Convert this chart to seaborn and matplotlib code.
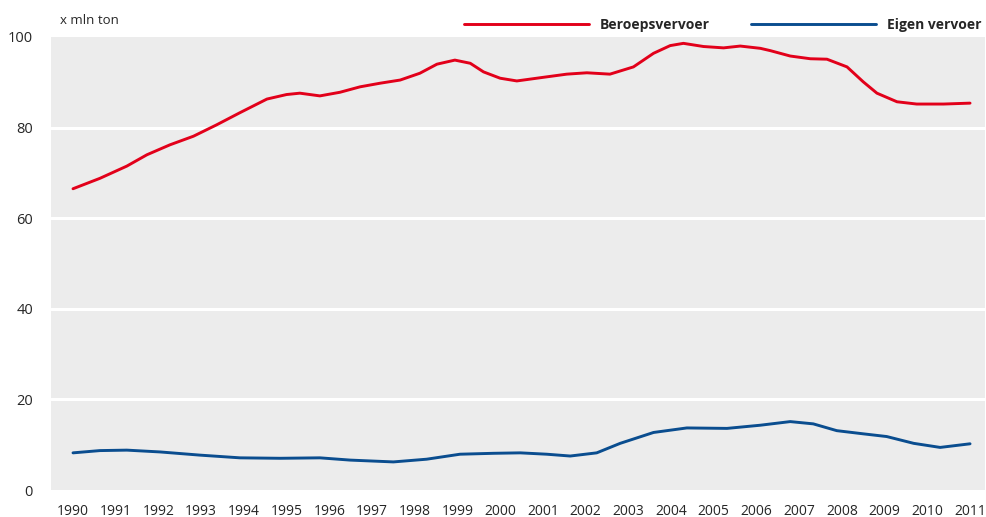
import numpy as np
import pandas as pd
import matplotlib
matplotlib.use('Agg')
import matplotlib.pyplot as plt
import seaborn as sns

# Beroepsvervoer (red)
beroeps_x = [1990.0, 1990.63, 1991.26, 1991.73, 1992.27, 1992.82, 1993.36, 1993.91,
             1994.54, 1995.0, 1995.31, 1995.78, 1996.25, 1996.72, 1997.19, 1997.66,
             1998.12, 1998.52, 1998.94, 1999.30, 1999.61, 2000.0, 2000.39, 2000.70,
             2001.01, 2001.56, 2002.03, 2002.57, 2003.12, 2003.59, 2003.98, 2004.29,
             2004.76, 2005.23, 2005.62, 2006.09, 2006.32, 2006.79, 2007.26, 2007.65,
             2008.12, 2008.50, 2008.82, 2009.29, 2009.75, 2010.38, 2011.0]
beroeps_y = [66.5, 68.8, 71.5, 74.0, 76.2, 78.1, 80.6, 83.3,
             86.3, 87.3, 87.6, 87.0, 87.8, 89.0, 89.8, 90.5,
             92.0, 94.0, 94.9, 94.2, 92.3, 90.9, 90.3, 90.7,
             91.1, 91.8, 92.1, 91.8, 93.4, 96.4, 98.1, 98.6,
             97.9, 97.6, 98.0, 97.5, 97.0, 95.8, 95.2, 95.1,
             93.4, 90.1, 87.6, 85.7, 85.2, 85.2, 85.4]

# Eigen vervoer (blue)
eigen_x = [1990.0, 1990.63, 1991.26, 1992.04, 1992.97, 1993.91, 1994.85, 1995.78,
           1996.49, 1997.50, 1998.28, 1999.06, 1999.84, 2000.47, 2001.09, 2001.64,
           2002.26, 2002.81, 2003.59, 2004.37, 2005.31, 2006.09, 2006.79, 2007.33,
           2007.88, 2008.50, 2009.05, 2009.68, 2010.30, 2011.0]
eigen_y = [8.2, 8.7, 8.8, 8.4, 7.7, 7.1, 7.0, 7.1,
           6.6, 6.2, 6.8, 7.9, 8.1, 8.2, 7.9, 7.5,
           8.2, 10.3, 12.7, 13.7, 13.6, 14.3, 15.1, 14.6,
           13.1, 12.4, 11.8, 10.3, 9.4, 10.2]

years = list(range(1990, 2012))
y_ticks = [0, 20, 40, 60, 80, 100]

df = pd.concat([
    pd.DataFrame({'jaar': beroeps_x, 'waarde': beroeps_y, 'serie': 'Beroepsvervoer'}),
    pd.DataFrame({'jaar': eigen_x, 'waarde': eigen_y, 'serie': 'Eigen vervoer'}),
])

sns.set_style('white')
plt.rcParams['font.family'] = ['Open Sans', 'DejaVu Sans']

fig = plt.figure(figsize=(9.86, 5.17), dpi=100)
ax = fig.add_axes([51 / 986, 27 / 517, 934 / 986, 453 / 517])
ax.set_facecolor('#ececec')

sns.lineplot(data=df, x='jaar', y='waarde', hue='serie', sort=False, estimator=None,
             palette={'Beroepsvervoer': '#e2001a', 'Eigen vervoer': '#0a4d8f'},
             linewidth=2.1, ax=ax)
for ln in ax.get_lines():
    ln.set_solid_joinstyle('round')
    ln.set_solid_capstyle('round')

ax.set_xlim(1989.485, 2011.35)
ax.set_ylim(0, 100)
ax.set_xticks(years)
ax.set_xticklabels([str(y) for y in years])
ax.set_yticks(y_ticks)
ax.set_yticklabels([str(v) for v in y_ticks])
for v in y_ticks[1:-1]:
    ax.axhline(v, color='white', lw=2.2, zorder=1)
ax.tick_params(axis='x', direction='in', length=8, width=1.8, color='white',
               labelsize=10, pad=10)
ax.tick_params(axis='y', length=0, labelsize=10.5, pad=13)
for s in ax.spines.values():
    s.set_visible(False)
ax.set_xlabel('')
ax.set_ylabel('')

ax.text(60 / 986, 1 - 20 / 517, 'x mln ton', transform=fig.transFigure,
        fontsize=9.5, va='center', ha='left')

leg = ax.legend(loc='lower right', bbox_to_anchor=(0.999, 1.005), ncol=2, frameon=False,
                handlelength=9.0, handletextpad=0.75, columnspacing=3.0,
                borderaxespad=0, borderpad=0.2, fontsize=10)
for t in leg.get_texts():
    t.set_fontweight('bold')

fig.savefig('out.png', dpi=100)
